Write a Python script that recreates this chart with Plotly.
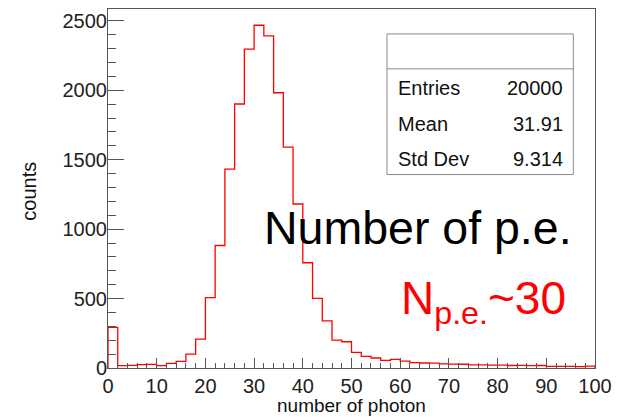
import plotly.graph_objects as go

# ---- data ----
bin_edges = list(range(0, 102, 2))  # 0..100, 50 bins of width 2
counts = [292, 17, 19, 24, 26, 17, 33, 48, 100, 208,
          507, 882, 1432, 1901, 2296, 2468, 2391, 1982, 1590, 1181,
          758, 502, 339, 201, 189, 113, 84, 72, 55, 62,
          50, 38, 36, 35, 30, 28, 27, 22, 22, 21,
          20, 18, 19, 17, 18, 12, 11, 12, 10, 13]
x_ticks = list(range(0, 101, 10))
y_ticks = list(range(0, 2501, 500))
stats_labels = ["Entries", "Mean", "Std Dev"]
stats_values = ["20000", "31.91", "9.314"]

# step outline (ROOT-style histogram outline closing to zero at both ends)
xs = [bin_edges[0]] + bin_edges[:-1] + [bin_edges[-1], bin_edges[-1]]
ys = [0] + counts + [counts[-1], 0]

FONT = "Liberation Sans, Arial, Helvetica, sans-serif"
L, R, T, B = 108, 18, 8, 50
W, H = 620, 418
PW, PH = W - L - R, H - T - B


def px(x):
    return (x - L) / PW


def py(y):
    return (H - B - y) / PH


fig = go.Figure()
fig.add_trace(go.Scatter(x=xs, y=ys, mode="lines", line=dict(color="#ff0000", width=1.3, shape="hv"),
                         hoverinfo="skip", showlegend=False))

axis_common = dict(showgrid=False, zeroline=False, showline=True, linecolor="#555555", linewidth=1,
                   mirror=True, ticks="inside", tickcolor="#555555", tickwidth=1,
                   tickfont=dict(family=FONT, size=20, color="#222222"))

fig.update_layout(
    width=W, height=H,
    margin=dict(l=L, r=R, t=T, b=B, pad=0),
    paper_bgcolor="white", plot_bgcolor="white",
    hovermode=False,
    xaxis=dict(range=[0, 100], tickvals=x_ticks, ticklen=10,
               minor=dict(dtick=2, tick0=0, ticklen=5, ticks="inside", tickcolor="#555555"),
               **axis_common),
    yaxis=dict(range=[0, 2585], tickvals=y_ticks, ticklen=16, ticklabelstandoff=-4,
               minor=dict(dtick=100, tick0=0, ticklen=8, ticks="inside", tickcolor="#555555"),
               **axis_common),
)

# stats box
bx0, bx1 = px(391), px(580)
by_top, by_head, by_bot = py(33), py(68), py(174)
fig.add_shape(type="rect", xref="paper", yref="paper", x0=bx0, x1=bx1, y0=by_bot, y1=by_top,
              line=dict(color="#8a8a8a", width=1), fillcolor="white", layer="above")
fig.add_shape(type="line", xref="paper", yref="paper", x0=bx0, x1=bx1, y0=by_head, y1=by_head,
              line=dict(color="#8a8a8a", width=1), layer="above")
row_y = [87, 123, 158.5]
for lab, val, yy in zip(stats_labels, stats_values, row_y):
    fig.add_annotation(x=px(400), y=py(yy), xref="paper", yref="paper", text=lab, showarrow=False,
                       xanchor="left", yanchor="middle", font=dict(family=FONT, size=20, color="#111111"))
    fig.add_annotation(x=px(572), y=py(yy), xref="paper", yref="paper", text=val, showarrow=False,
                       xanchor="right", yanchor="middle", font=dict(family=FONT, size=20, color="#111111"))

# big labels
fig.add_annotation(x=px(264), y=py(228), xref="paper", yref="paper", text="Number of p.e.",
                   showarrow=False, xanchor="left", yanchor="middle",
                   font=dict(family=FONT, size=46.5, color="black"))
fig.add_annotation(x=px(403), y=py(301), xref="paper", yref="paper", text="N<sub>p.e.</sub>~30",
                   showarrow=False, xanchor="left", yanchor="middle",
                   font=dict(family=FONT, size=46, color="#ff0000"))

# axis titles
fig.add_annotation(x=px(27.5), y=py(190.5), xref="paper", yref="paper", text="counts", textangle=-90,
                   showarrow=False, xanchor="center", yanchor="middle",
                   font=dict(family=FONT, size=20, color="#111111"))
fig.add_annotation(x=px(355), y=py(406), xref="paper", yref="paper", text="number of photon",
                   showarrow=False, xanchor="center", yanchor="middle",
                   font=dict(family=FONT, size=19, color="#111111"))

fig.write_html("out.html", config={"displayModeBar": False, "staticPlot": True},
               post_script="document.body.style.margin='0';document.body.style.overflow='hidden';")
